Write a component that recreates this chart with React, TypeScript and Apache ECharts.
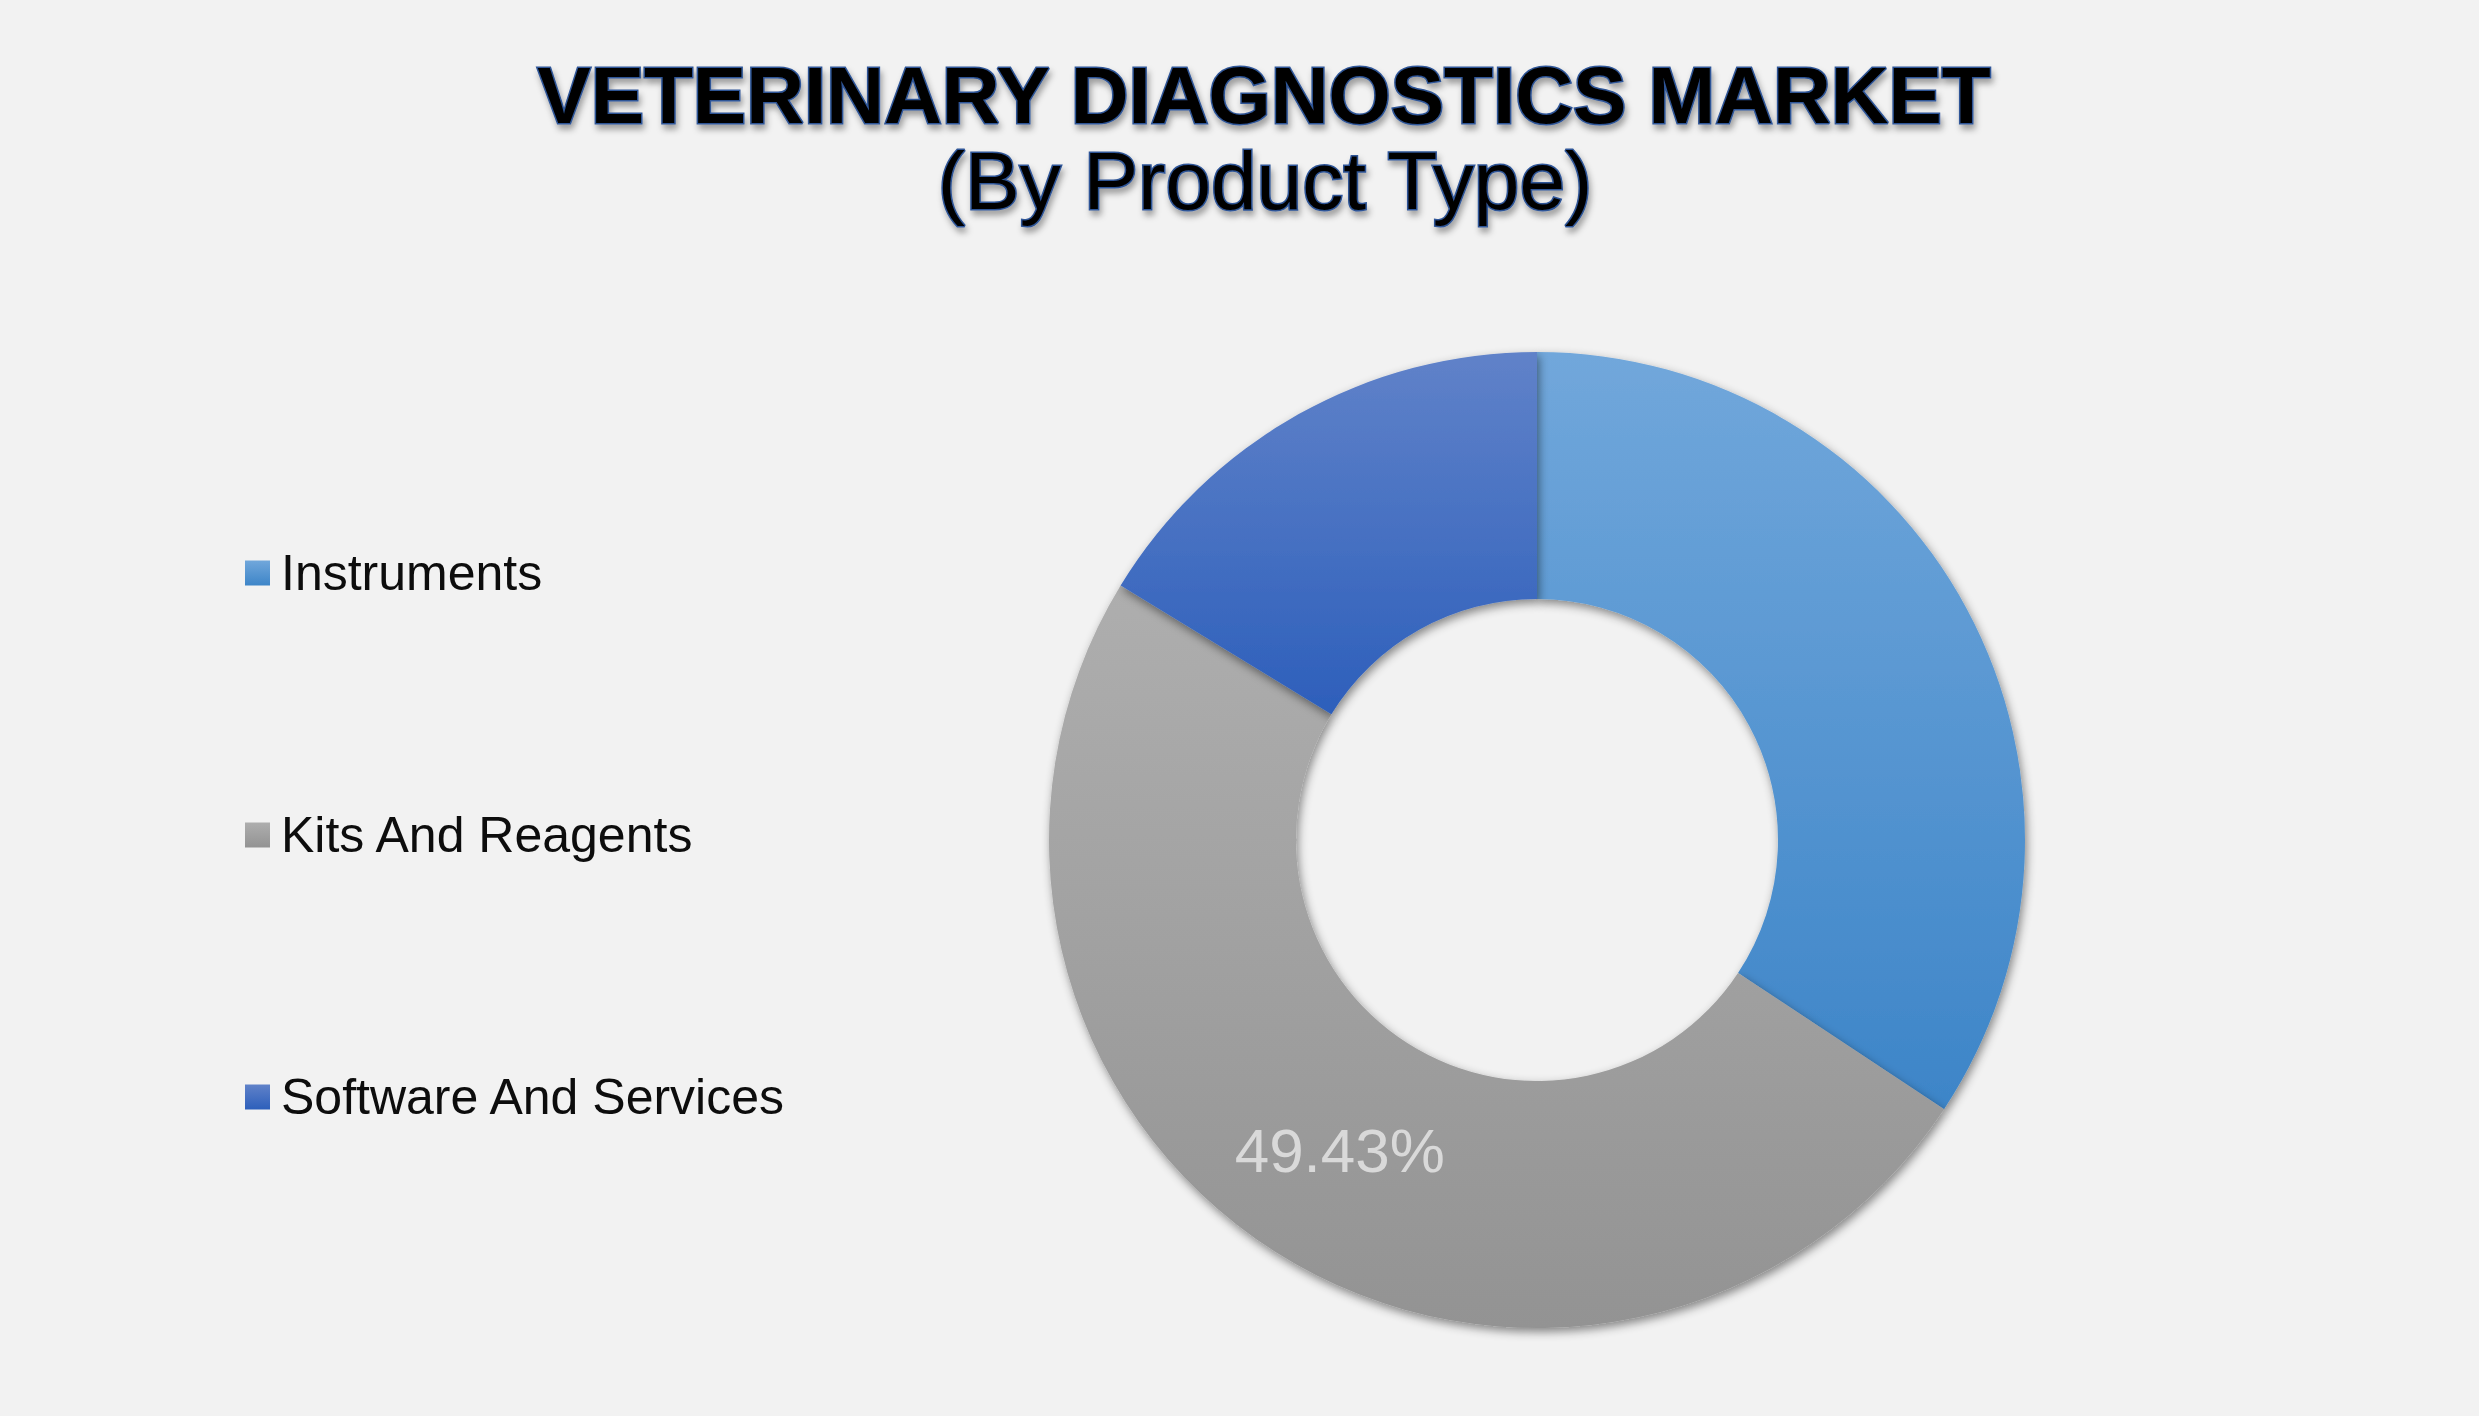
import React, { useEffect, useRef } from "react";
import * as echarts from "echarts";

const categories = ["Instruments", "Kits And Reagents", "Software And Services"];
const shares = [34.3, 49.43, 16.27];
const labelled = [false, true, false];
const gradientTops = ["#71A7DB", "#AEAEAE", "#6082C9"];
const gradientBottoms = ["#3D85C8", "#939393", "#2D5FBB"];

const titleMain = "VETERINARY DIAGNOSTICS MARKET";
const titleSub = "(By Product Type)";

export default function App() {
  const ref = useRef<HTMLDivElement>(null);
  useEffect(() => {
    if (!ref.current) return;
    const chart = echarts.init(ref.current, undefined, { renderer: "svg" });
    const titleStyle = {
      color: "#000000",
      fontFamily: "Liberation Sans",
      textBorderColor: "#2F5597",
      textBorderWidth: 3,
      textShadowColor: "rgba(0,0,0,0.35)",
      textShadowBlur: 6,
      textShadowOffsetX: 2,
      textShadowOffsetY: 5,
    };
    chart.setOption({
      animation: false,
      backgroundColor: "#F2F2F2",
      title: [
        {
          text: titleMain,
          left: 1264,
          top: 95,
          textAlign: "center",
          textVerticalAlign: "middle",
          padding: 0,
          textStyle: { ...titleStyle, fontWeight: "bold", fontSize: 80 },
        },
        {
          text: titleSub,
          left: 1265,
          top: 180,
          textAlign: "center",
          textVerticalAlign: "middle",
          padding: 0,
          textStyle: { ...titleStyle, fontWeight: "normal", fontSize: 82 },
        },
      ],
      legend: {
        orient: "vertical",
        left: 245,
        top: 548,
        padding: 0,
        itemWidth: 25,
        itemHeight: 25,
        itemGap: 212,
        icon: "rect",
        data: categories,
        textStyle: {
          fontFamily: "Liberation Sans",
          fontSize: 50,
          lineHeight: 50,
          color: "#0D0D0D",
          padding: [0, 0, 0, 6],
        },
      },
      series: [
        {
          type: "pie",
          center: [1537, 840],
          radius: [241, 488],
          startAngle: 90,
          clockwise: true,
          silent: true,
          label: { show: false },
          labelLine: { show: false },
          itemStyle: {
            shadowBlur: 10,
            shadowColor: "rgba(0,0,0,0.45)",
            shadowOffsetX: 2,
            shadowOffsetY: 4,
          },
          data: categories.map((name, i) => ({
            name,
            value: shares[i],
            itemStyle: {
              color: new echarts.graphic.LinearGradient(0, 0, 0, 1, [
                { offset: 0, color: gradientTops[i] },
                { offset: 1, color: gradientBottoms[i] },
              ]),
            },
            label: labelled[i]
              ? {
                  show: true,
                  position: "inside",
                  formatter: "{c}%",
                  fontFamily: "Liberation Sans",
                  fontSize: 62,
                  color: "#D9D9D9",
                }
              : { show: false },
          })),
        },
      ],
    });
    return () => chart.dispose();
  }, []);
  return (
    <div
      ref={ref}
      style={{ position: "fixed", left: 0, top: 0, width: 2479, height: 1416 }}
    />
  );
}
